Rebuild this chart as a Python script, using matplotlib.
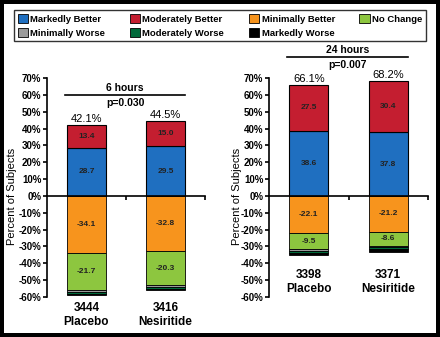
import matplotlib
matplotlib.use("Agg")
import matplotlib.pyplot as plt
from matplotlib.patches import Patch

plt.rcParams['font.family'] = ['Liberation Sans', 'DejaVu Sans']

# response categories, top of stack first for positives, nearest zero first for negatives
CATEGORIES = ['Markedly Better', 'Moderately Better', 'Minimally Better', 'No Change',
              'Minimally Worse', 'Moderately Worse', 'Markedly Worse']
COLORS = ['#1f6fc0', '#c41e30', '#f7941d', '#8dc63f', '#9a9a9a', '#00693a', '#000000']

GROUPS = ['Placebo', 'Nesiritide']

# 6 hours
N_6H = [3444, 3416]
POS_6H = {'Markedly Better': [28.7, 29.5], 'Moderately Better': [13.4, 15.0]}
NEG_6H = {'Minimally Better': [-34.1, -32.8], 'No Change': [-21.7, -20.3],
          'Minimally Worse': [-1.5, -0.8], 'Moderately Worse': [-1.0, -1.6],
          'Markedly Worse': [-0.5, -0.6]}
TOTAL_6H = [42.1, 44.5]
P_6H = 'p=0.030'

# 24 hours
N_24H = [3398, 3371]
POS_24H = {'Markedly Better': [38.6, 37.8], 'Moderately Better': [27.5, 30.4]}
NEG_24H = {'Minimally Better': [-22.1, -21.2], 'No Change': [-9.5, -8.6],
           'Minimally Worse': [-1.3, -0.7], 'Moderately Worse': [-1.0, -0.8],
           'Markedly Worse': [-1.0, -2.2]}
TOTAL_24H = [66.1, 68.2]
P_24H = 'p=0.007'

LABELED = ['Markedly Better', 'Moderately Better', 'Minimally Better', 'No Change']
YTICKS = list(range(-60, 80, 10))


def draw_panel(ax, pos, neg, totals, ns, title, pval, bracket_y, cat_y, ylabel_x):
    x = [0.5, 1.5]
    width = 0.49
    color_of = dict(zip(CATEGORIES, COLORS))

    bottom = [0.0, 0.0]
    for cat, vals in pos.items():
        ax.bar(x, vals, width, bottom=bottom, color=color_of[cat],
               edgecolor='black', linewidth=0.8, zorder=2)
        for xi, b, v in zip(x, bottom, vals):
            ax.text(xi, b + v / 2, f'{v:.1f}', ha='center', va='center',
                    fontsize=6, fontweight='bold', color='#222222', zorder=3)
        bottom = [b + v for b, v in zip(bottom, vals)]

    bottom = [0.0, 0.0]
    for cat, vals in neg.items():
        ax.bar(x, vals, width, bottom=bottom, color=color_of[cat],
               edgecolor='black', linewidth=0.6, zorder=2)
        if cat in LABELED:
            for xi, b, v in zip(x, bottom, vals):
                ax.text(xi, b + v / 2, f'{v:.1f}', ha='center', va='center',
                        fontsize=6, fontweight='bold', color='#222222', zorder=3)
        bottom = [b + v for b, v in zip(bottom, vals)]

    for xi, t in zip(x, totals):
        ax.text(xi, t + 3.3, f'{t:.1f}%', ha='center', va='center',
                fontsize=8, clip_on=False)

    # bracket with time point and p value
    ax.plot([0.23, 1.75], [bracket_y, bracket_y], color='black', lw=1.2, clip_on=False)
    ax.text(0.99, bracket_y + 4.2, title, ha='center', va='center',
            fontsize=7.5, fontweight='bold', clip_on=False)
    ax.text(0.99, bracket_y - 4.8, pval, ha='center', va='center',
            fontsize=7.5, fontweight='bold', clip_on=False)

    for xi, n, g in zip(x, ns, GROUPS):
        ax.text(xi, cat_y, f'{n}\n{g}', ha='center', va='center',
                fontsize=8.5, fontweight='bold', linespacing=1.2, clip_on=False)

    ax.set_xlim(0, 2)
    ax.set_ylim(-60, 70)
    ax.set_yticks(YTICKS)
    ax.set_yticklabels([f'{t}%' for t in YTICKS], fontsize=7, fontweight='bold')
    ax.set_xticks([1, 2])
    ax.set_xticklabels([])
    ax.tick_params(axis='x', direction='out', length=3, width=1.2)
    ax.tick_params(axis='y', direction='out', length=3, width=1.2, pad=1)
    ax.spines['top'].set_visible(False)
    ax.spines['right'].set_visible(False)
    ax.spines['bottom'].set_position(('data', 0))
    ax.spines['bottom'].set_linewidth(1.2)
    ax.spines['left'].set_linewidth(1.2)
    ax.spines['bottom'].set_zorder(4)
    ax.set_ylabel('Percent of Subjects', fontsize=8)
    ax.yaxis.set_label_coords(ylabel_x, 0.46)


fig = plt.figure(figsize=(4.4, 3.37), dpi=100, linewidth=4.4, edgecolor='black')

ax1 = fig.add_axes([47 / 440, 40 / 337, 158 / 440, 219 / 337])
ax2 = fig.add_axes([269 / 440, 40 / 337, 159 / 440, 219 / 337])

draw_panel(ax1, POS_6H, NEG_6H, TOTAL_6H, N_6H, '6 hours', P_6H,
           bracket_y=60.0, cat_y=-70.5, ylabel_x=-0.19)
draw_panel(ax2, POS_24H, NEG_24H, TOTAL_24H, N_24H, '24 hours', P_24H,
           bracket_y=82.5, cat_y=-51.0, ylabel_x=-0.17)

# legend order arranged so columns fill into two rows
handles = {c: Patch(facecolor=col, edgecolor='black', linewidth=0.6)
           for c, col in zip(CATEGORIES, COLORS)}
order = ['Markedly Better', 'Minimally Worse', 'Moderately Better', 'Moderately Worse',
         'Minimally Better', 'Markedly Worse', 'No Change']
leg = fig.legend([handles[c] for c in order], order, loc='upper center',
                 bbox_to_anchor=(0.5, 1 - 10 / 337), ncol=4, frameon=True,
                 fancybox=False, edgecolor='black', borderaxespad=0,
                 prop={'size': 6.8, 'weight': 'bold'}, handlelength=1.1,
                 handleheight=1.1, handletextpad=0.25, columnspacing=2.6,
                 labelspacing=0.45, borderpad=0.4)
leg.get_frame().set_linewidth(1.0)

fig.savefig('out.png', dpi=100)
